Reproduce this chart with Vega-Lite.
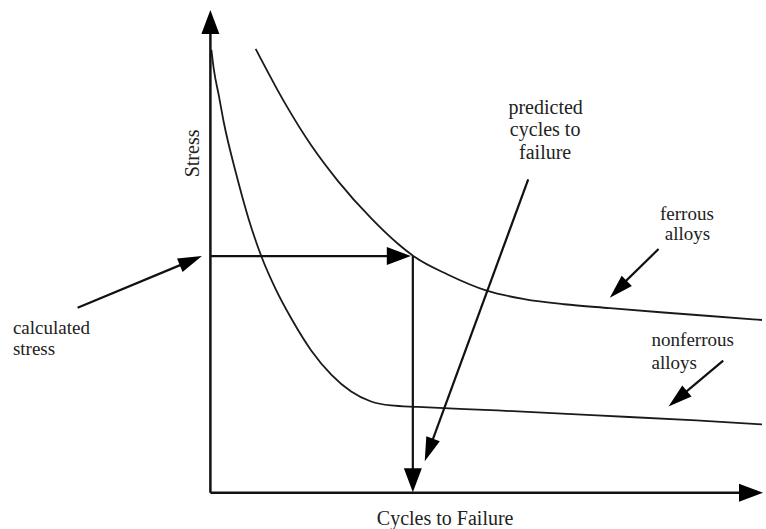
{
  "$schema": "https://vega.github.io/schema/vega-lite/v6.json",
  "width": 766,
  "height": 529,
  "autosize": {"type": "fit", "contains": "padding"},
  "padding": 0,
  "background": "white",
  "config": {"view": {"stroke": null}},
  "datasets": {
    "curves": [
      {"curve": "ferrous", "x": 257, "y": 480},
      {"curve": "ferrous", "x": 287, "y": 424.5},
      {"curve": "ferrous", "x": 313, "y": 382.9},
      {"curve": "ferrous", "x": 340, "y": 347},
      {"curve": "ferrous", "x": 373, "y": 310},
      {"curve": "ferrous", "x": 400, "y": 284.3},
      {"curve": "ferrous", "x": 417, "y": 271},
      {"curve": "ferrous", "x": 450, "y": 253.5},
      {"curve": "ferrous", "x": 490, "y": 237},
      {"curve": "ferrous", "x": 527, "y": 228.8},
      {"curve": "ferrous", "x": 567, "y": 223.6},
      {"curve": "ferrous", "x": 613, "y": 219.7},
      {"curve": "ferrous", "x": 667, "y": 215.3},
      {"curve": "ferrous", "x": 757, "y": 208.5},
      {"curve": "ferrous", "x": 766, "y": 207.8},
      {"curve": "nonferrous", "x": 212.5, "y": 479},
      {"curve": "nonferrous", "x": 215, "y": 459},
      {"curve": "nonferrous", "x": 220, "y": 433},
      {"curve": "nonferrous", "x": 225, "y": 406},
      {"curve": "nonferrous", "x": 237, "y": 356},
      {"curve": "nonferrous", "x": 250, "y": 309},
      {"curve": "nonferrous", "x": 263, "y": 271},
      {"curve": "nonferrous", "x": 277, "y": 239},
      {"curve": "nonferrous", "x": 293, "y": 209},
      {"curve": "nonferrous", "x": 313, "y": 177},
      {"curve": "nonferrous", "x": 333, "y": 153},
      {"curve": "nonferrous", "x": 353, "y": 136},
      {"curve": "nonferrous", "x": 373, "y": 126},
      {"curve": "nonferrous", "x": 393, "y": 122},
      {"curve": "nonferrous", "x": 420, "y": 120.5},
      {"curve": "nonferrous", "x": 500, "y": 117},
      {"curve": "nonferrous", "x": 600, "y": 112},
      {"curve": "nonferrous", "x": 700, "y": 107},
      {"curve": "nonferrous", "x": 766, "y": 103}
    ],
    "axes": [
      {"x": 211.5, "y": 34.5, "x2": 211.5, "y2": 502},
      {"x": 211.5, "y": 34.5, "x2": 752, "y2": 34.5}
    ],
    "pointers": [
      {"x": 211.5, "y": 272, "x2": 398, "y2": 272},
      {"x": 415, "y": 272, "x2": 415, "y2": 50},
      {"x": 78, "y": 220, "x2": 192, "y2": 267.4},
      {"x": 531, "y": 349, "x2": 430.5, "y2": 75.4},
      {"x": 662, "y": 279, "x2": 620, "y2": 238},
      {"x": 727, "y": 167, "x2": 679.7, "y2": 127.4}
    ],
    "bigheads": [
      {"x": 211.5, "y": 519, "dir": 0},
      {"x": 767, "y": 34.5, "dir": 90},
      {"x": 413, "y": 272, "dir": 90},
      {"x": 415, "y": 35, "dir": 180}
    ],
    "smallheads": [
      {"x": 203, "y": 272, "dir": 67.4},
      {"x": 427, "y": 66, "dir": 200.2},
      {"x": 613, "y": 230, "dir": 225},
      {"x": 672, "y": 121, "dir": 230.1}
    ],
    "leftlabels": [
      {"t": "calculated", "x": 13, "y": 194},
      {"t": "stress", "x": 13, "y": 173},
      {"t": "nonferrous", "x": 655, "y": 182},
      {"t": "alloys", "x": 655, "y": 159}
    ],
    "pairlabels": [
      {"t": "ferrous", "x": 690.5, "y": 308},
      {"t": "alloys", "x": 691, "y": 288}
    ],
    "centerlabels": [
      {"t": "predicted", "x": 548.5, "y": 414.5},
      {"t": "cycles to", "x": 548, "y": 392},
      {"t": "failure", "x": 548, "y": 369.5},
      {"t": "Cycles to Failure", "x": 447.5, "y": 2}
    ],
    "vlabels": [
      {"t": "Stress", "x": 200, "y": 375}
    ]
  },
  "layer": [
    {
      "data": {"name": "curves"},
      "mark": {"type": "line", "interpolate": "monotone", "color": "#1a1a1a", "strokeWidth": 1.8},
      "encoding": {
        "x": {"field": "x", "type": "quantitative", "scale": {"domain": [0, 766], "nice": false, "zero": false}, "axis": null},
        "y": {"field": "y", "type": "quantitative", "scale": {"domain": [0, 529], "nice": false, "zero": false}, "axis": null},
        "detail": {"field": "curve"}
      }
    },
    {
      "data": {"name": "axes"},
      "mark": {"type": "rule", "color": "#111111", "strokeWidth": 2.5},
      "encoding": {
        "x": {"field": "x", "type": "quantitative"},
        "y": {"field": "y", "type": "quantitative"},
        "x2": {"field": "x2"},
        "y2": {"field": "y2"}
      }
    },
    {
      "data": {"name": "pointers"},
      "mark": {"type": "rule", "color": "#111111", "strokeWidth": 2.2},
      "encoding": {
        "x": {"field": "x", "type": "quantitative"},
        "y": {"field": "y", "type": "quantitative"},
        "x2": {"field": "x2"},
        "y2": {"field": "y2"}
      }
    },
    {
      "data": {"name": "bigheads"},
      "mark": {"type": "point", "shape": "M0,0L0.375,1L-0.375,1Z", "filled": true, "color": "#000000", "opacity": 1, "size": 2304, "strokeWidth": 0},
      "encoding": {
        "x": {"field": "x", "type": "quantitative"},
        "y": {"field": "y", "type": "quantitative"},
        "angle": {"field": "dir", "type": "quantitative", "scale": null}
      }
    },
    {
      "data": {"name": "smallheads"},
      "mark": {"type": "point", "shape": "M0,0L0.3,1L-0.3,1Z", "filled": true, "color": "#000000", "opacity": 1, "size": 2304, "strokeWidth": 0},
      "encoding": {
        "x": {"field": "x", "type": "quantitative"},
        "y": {"field": "y", "type": "quantitative"},
        "angle": {"field": "dir", "type": "quantitative", "scale": null}
      }
    },
    {
      "data": {"name": "leftlabels"},
      "mark": {"type": "text", "align": "left", "baseline": "alphabetic", "font": "Liberation Serif", "fontSize": 19, "color": "#222222"},
      "encoding": {
        "x": {"field": "x", "type": "quantitative"},
        "y": {"field": "y", "type": "quantitative"},
        "text": {"field": "t"}
      }
    },
    {
      "data": {"name": "pairlabels"},
      "mark": {"type": "text", "align": "center", "baseline": "alphabetic", "font": "Liberation Serif", "fontSize": 19, "color": "#222222"},
      "encoding": {
        "x": {"field": "x", "type": "quantitative"},
        "y": {"field": "y", "type": "quantitative"},
        "text": {"field": "t"}
      }
    },
    {
      "data": {"name": "centerlabels"},
      "mark": {"type": "text", "align": "center", "baseline": "alphabetic", "font": "Liberation Serif", "fontSize": 20, "color": "#222222"},
      "encoding": {
        "x": {"field": "x", "type": "quantitative"},
        "y": {"field": "y", "type": "quantitative"},
        "text": {"field": "t"}
      }
    },
    {
      "data": {"name": "vlabels"},
      "mark": {"type": "text", "align": "center", "baseline": "alphabetic", "angle": 270, "font": "Liberation Serif", "fontSize": 20, "color": "#222222"},
      "encoding": {
        "x": {"field": "x", "type": "quantitative"},
        "y": {"field": "y", "type": "quantitative"},
        "text": {"field": "t"}
      }
    }
  ]
}
